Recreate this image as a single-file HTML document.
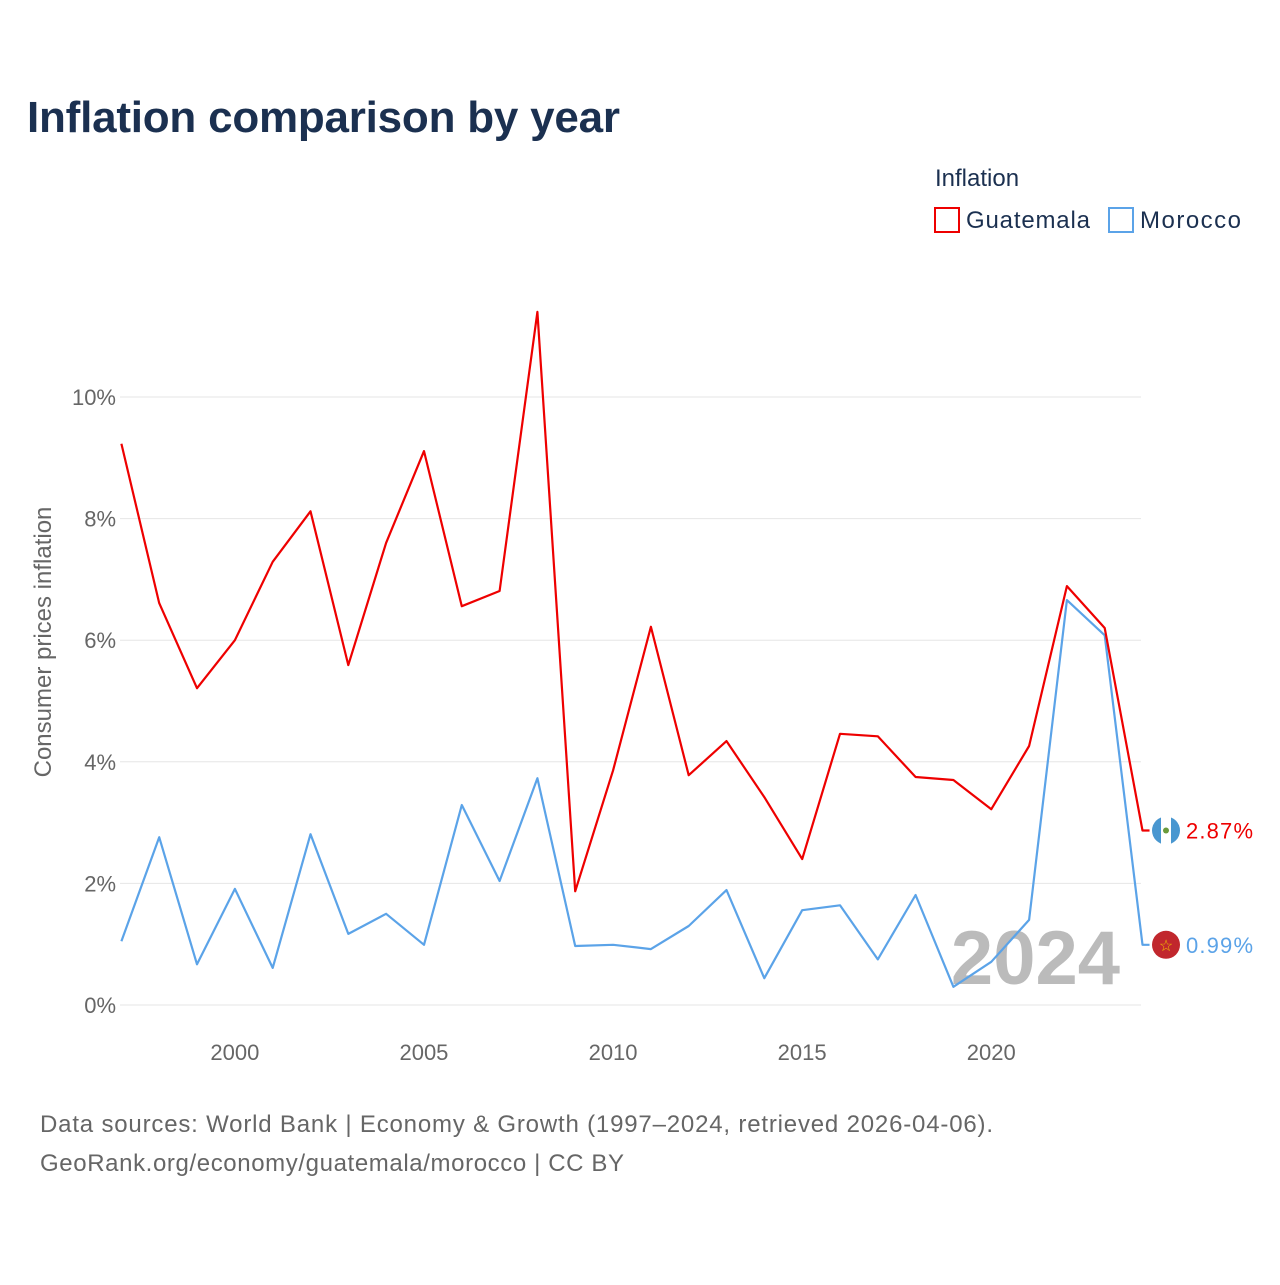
<!DOCTYPE html>
<html><head><meta charset="utf-8"><style>
body{margin:0;background:#fff;}
svg text{font-family:"Liberation Sans",sans-serif;}
</style></head><body>
<svg width="1280" height="1280" viewBox="0 0 1280 1280" xmlns="http://www.w3.org/2000/svg">
<rect width="1280" height="1280" fill="#fff"/>
<text x="27" y="132" font-size="44" font-weight="bold" fill="#1b3050" textLength="593">Inflation comparison by year</text>
<text x="935" y="186" font-size="24" fill="#1b3050">Inflation</text>
<g><rect x="935" y="208" width="24" height="24" fill="none" stroke="#ee0000" stroke-width="2"/><text x="966" y="228" font-size="24" fill="#1b3050" textLength="124">Guatemala</text></g>
<g><rect x="1109" y="208" width="24" height="24" fill="none" stroke="#5ba3e8" stroke-width="2"/><text x="1140" y="228" font-size="24" fill="#1b3050" textLength="101">Morocco</text></g>
<text transform="translate(51,642) rotate(-90)" text-anchor="middle" font-size="24" fill="#666">Consumer prices inflation</text>
<g id="grid"></g><g id="yticks"></g><g id="xticks"></g>
<text x="1120" y="984" text-anchor="end" font-size="76" font-weight="bold" fill="#bbb">2024</text>
<g id="series"></g>
<text x="40" y="1132" font-size="24" fill="#666" textLength="953">Data sources: World Bank | Economy &amp; Growth (1997–2024, retrieved 2026-04-06).</text>
<text x="40" y="1171" font-size="24" fill="#666" textLength="584">GeoRank.org/economy/guatemala/morocco | CC BY</text>
</svg>
<script>
const years=[1997,1998,1999,2000,2001,2002,2003,2004,2005,2006,2007,2008,2009,2010,2011,2012,2013,2014,2015,2016,2017,2018,2019,2020,2021,2022,2023,2024];
const guatemala=[9.23,6.61,5.21,6.00,7.29,8.12,5.59,7.60,9.11,6.56,6.81,11.40,1.87,3.86,6.22,3.78,4.34,3.42,2.40,4.46,4.42,3.75,3.70,3.22,4.26,6.89,6.20,2.87];
const morocco=[1.05,2.76,0.67,1.91,0.61,2.81,1.17,1.50,0.99,3.29,2.04,3.73,0.97,0.99,0.92,1.30,1.89,0.44,1.56,1.64,0.75,1.81,0.30,0.71,1.40,6.66,6.08,0.99];
const yTicks=[0,2,4,6,8,10];
const xTicks=[2000,2005,2010,2015,2020];
const NS="http://www.w3.org/2000/svg";
const X=y=>121.4+(y-1997)*37.82;
const Y=v=>1005-v*60.8;
function mk(t,a,p){const e=document.createElementNS(NS,t);for(const k in a)e.setAttribute(k,a[k]);p.appendChild(e);return e;}
const grid=document.getElementById('grid'),yt=document.getElementById('yticks'),xt=document.getElementById('xticks'),se=document.getElementById('series');
yTicks.forEach(v=>{
 const l=mk('line',{x1:120,x2:1141,y1:Y(v),y2:Y(v),stroke:'#e6e6e6','stroke-width':1},grid);
 
 
 const t=mk('text',{x:116,y:Y(v)+8,'text-anchor':'end','font-size':22,fill:'#666'},yt);t.textContent=v+'%';
 
 
});
xTicks.forEach(v=>{
 const t=mk('text',{x:X(v),y:1060,'text-anchor':'middle','font-size':22,fill:'#666'},xt);t.textContent=v;
 
 
});
function line(vals,color,name,flag){
 let d=vals.map((v,i)=>(i?'L':'M')+X(years[i]).toFixed(1)+','+Y(v).toFixed(1)).join(' ');
 const last=vals[vals.length-1];
 d+=' L'+(X(2024)+7)+','+Y(last).toFixed(1);
 const p=mk('path',{d:d,fill:'none',stroke:color,'stroke-width':2.2,'stroke-linejoin':'round'},se);
 
 
 const g=mk('g',{},se);
 
 
 const cy=Y(last);
 if(flag==='gt'){
  mk('circle',{cx:1166,cy:cy,r:14,fill:'#4997d0'},g);
  mk('rect',{x:1161,y:cy-14,width:10,height:28,fill:'#fff'},g);
  mk('circle',{cx:1166,cy:cy,r:3,fill:'#6a9a3a'},g);
 }else{
  mk('circle',{cx:1166,cy:cy,r:14,fill:'#c1272d'},g);
  const s=mk('text',{x:1166,y:cy+6,'text-anchor':'middle','font-size':16,fill:'#f0c000'},g);s.textContent='☆';
 }
 const t=mk('text',{x:1186,y:cy+8,'font-size':22,fill:color,textLength:67},g);t.textContent=last.toFixed(2)+'%';
}
line(morocco,'#5ba3e8','morocco','ma');
line(guatemala,'#ee0000','guatemala','gt');
</script>
</body></html>
